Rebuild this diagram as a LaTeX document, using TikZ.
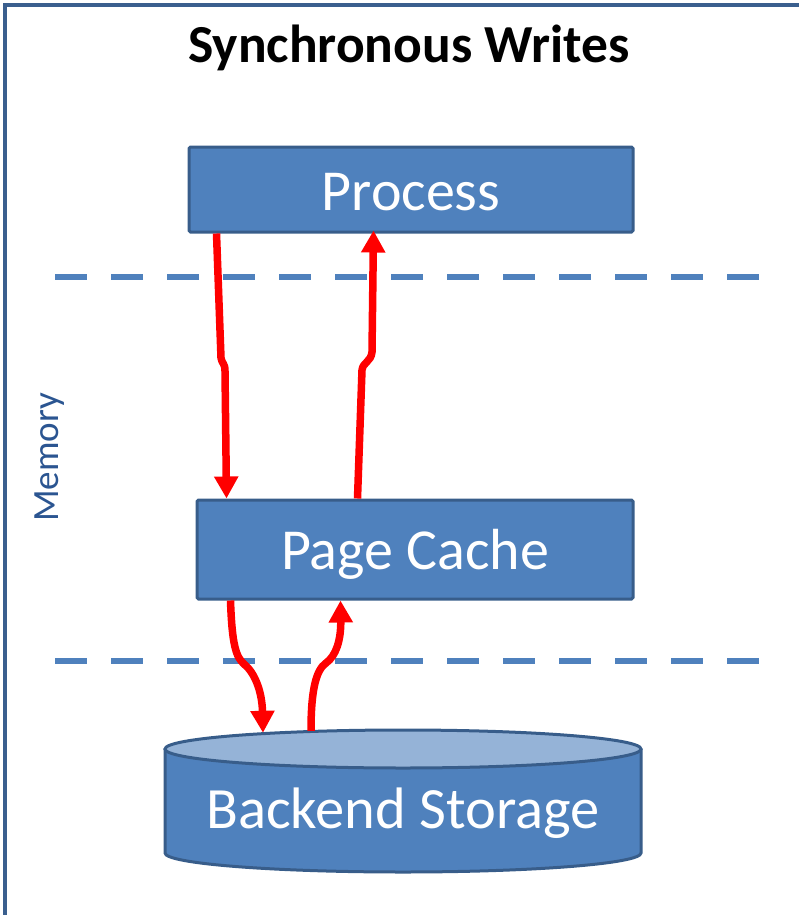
\documentclass[tikz,border=0pt]{standalone}
\usepackage{fontspec}
\setmainfont{Carlito}
\usetikzlibrary{arrows.meta}

\definecolor{boxfill}{HTML}{4F81BD}
\definecolor{boxline}{HTML}{385D8A}
\definecolor{lidfill}{HTML}{95B3D7}
\definecolor{framecol}{HTML}{3A5F8E}
\definecolor{labelcol}{HTML}{2B5591}
\definecolor{flowred}{HTML}{FF0000}

\tikzset{
  layerbox/.style={draw=boxline, fill=boxfill, line width=3pt, rounded corners=1.5pt,
    text=white, font=\fontsize{58}{60}\selectfont, inner sep=0pt,
    text height=41pt, text depth=0pt},
  boundary/.style={draw=boxfill, line width=6.5pt, dash pattern=on 32pt off 24pt},
  flow/.style={draw=flowred, line width=7.5pt, -{Triangle[width=23pt,length=22pt]}},
  frameline/.style={draw=framecol, line width=4pt}
}

\begin{document}
\begin{tikzpicture}[x=1pt, y=-1pt]
\useasboundingbox (0,0) rectangle (799,915);

% outer frame (top and left edges)
\draw[frameline] (5,917) -- (5,5) -- (801,5);

% title
\node[anchor=base, font=\fontsize{53.5}{56}\selectfont\bfseries, inner sep=0pt] (title) at (409,63) {Synchronous Writes};

% side label
\node[anchor=base, rotate=90, text=labelcol, font=\fontsize{37}{40}\selectfont, inner sep=0pt] (mem) at (58,457.5) {Memory};

% layer boundaries
\coordinate (b1l) at (55,277);  \coordinate (b1r) at (760,277);
\coordinate (b2l) at (55,661);  \coordinate (b2r) at (760,661);
\draw[boundary] (b1l) -- (b1r);
\draw[boundary] (b2l) -- (b2r);

% process and page cache
\node[layerbox, minimum width=444pt, minimum height=85pt] (proc) at (411,189.5) {Process};
\node[layerbox, minimum width=436pt, minimum height=99pt, text height=39pt] (pc) at (415,549.5) {Page Cache};

% backend storage drum
\fill[boxfill] (165,749) -- (165,853) arc[start angle=180, end angle=0, x radius=238, y radius=19]
  -- (641,749) arc[start angle=0, end angle=180, x radius=238, y radius=-19] -- cycle;
\draw[boxline, line width=3pt] (165,749) -- (165,853) arc[start angle=180, end angle=0, x radius=238, y radius=19] -- (641,749);
\draw[boxline, line width=3pt, fill=lidfill] (403,749) ellipse[x radius=238, y radius=19];
\node[minimum width=476pt, minimum height=141pt, inner sep=0pt, text=white,
  font=\fontsize{58.5}{60}\selectfont, text height=53pt, text depth=0pt] (store) at (403,801.5) {Backend Storage};

% write path down, acknowledgement path up
\draw[flow] ([xshift=29pt]proc.south west) -- (221,358)
  .. controls (222,364) and (225,363) .. (225,371) -- ([xshift=31pt]pc.north west);
\draw[flow] ([xshift=162pt]pc.north west) -- (362,370)
  .. controls (363,362) and (371,362) .. (372,352) -- ([xshift=186pt,yshift=3pt]proc.south west);
\draw[flow] ([xshift=35pt]pc.south west)
  .. controls (232,645) and (236,657) .. (244,664)
  .. controls (254,672) and (262,690) .. ([xshift=-140pt,yshift=-2pt]store.north);
\draw[flow] ([xshift=-92pt]store.north)
  .. controls (311,690) and (316,670) .. (326,663)
  .. controls (336,656) and (341,640) .. ([xshift=145pt]pc.south west);
\end{tikzpicture}
\end{document}
